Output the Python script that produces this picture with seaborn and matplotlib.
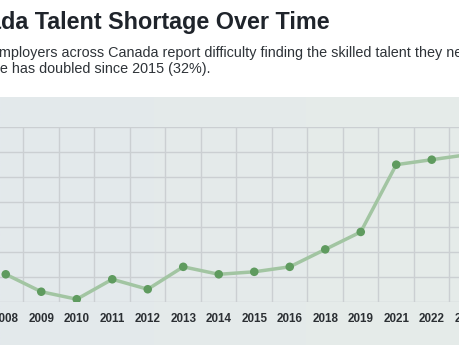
import matplotlib
matplotlib.use("Agg")
import matplotlib.pyplot as plt
import seaborn as sns
import numpy as np
import pandas as pd
from matplotlib.colors import LinearSegmentedColormap

# ---- data ----
years = ["2008", "2009", "2010", "2011", "2012", "2013", "2014",
         "2015", "2016", "2018", "2019", "2021", "2022", "2023"]
shortage = [31, 24, 21, 29, 25, 34, 31, 32, 34, 41, 48, 75, 77, 79]
y_ticks = [20, 30, 40, 50, 60, 70, 80, 90]

title = "Canada Talent Shortage Over Time"
sub1 = "Nearly 8 in 10 employers across Canada report difficulty finding the skilled talent they need."
sub2 = "The rate has doubled since 2015 (32%)."

sns.set_theme(style="white")
plt.rcParams["font.family"] = ["Liberation Sans", "DejaVu Sans"]

W, H = 460, 345
fig = plt.figure(figsize=(W / 100, H / 100), dpi=100)
fig.patch.set_facecolor("white")
renderer = fig.canvas.get_renderer()


def place(full, prefix, x_vis, y_base, **kw):
    t = fig.text(0, 0, prefix, **kw)
    w = t.get_window_extent(renderer).width
    t.remove()
    fig.text((x_vis - w) / W, 1 - y_base / H, full, va="baseline", ha="left", **kw)


place(title, "Cana", 0.5, 29.3, fontsize=16.8, fontweight="bold", color="#1f242b")
place(sub1, "Nearly 8 in 10 e", -0.8, 57.3, fontsize=10.35, color="#2e3338")
place(sub2, "The rat", 0.2, 72.7, fontsize=10.35, color="#2e3338")

# ---- panel background ----
panel_top = 97.3
bg = fig.add_axes([0, 0, 1, (H - panel_top) / H])
grad = np.linspace(0, 1, 256).reshape(1, -1)
cmap = LinearSegmentedColormap.from_list("p", ["#e3e9ec", "#e6ece9"])
bg.imshow(grad, aspect="auto", cmap=cmap, extent=[0, 1, 0, 1])
bg.set_xlim(0, 1)
bg.set_ylim(0, 1)
bg.axis("off")

# ---- main chart ----
ax = fig.add_axes([-12 / W, (H - 301.7) / H, 497 / W, 174.4 / H])
ax.patch.set_alpha(0)
df = pd.DataFrame({"year": years, "shortage": shortage})
sns.lineplot(data=df, x="year", y="shortage", ax=ax, color="#a2c5a2",
             lw=2.5, sort=False, zorder=3)
sns.scatterplot(data=df, x="year", y="shortage", ax=ax, color="#5f9b5f",
                s=38, edgecolor="none", zorder=5)
ax.set_ylim(20, 90)
ax.set_yticks(y_ticks)
ax.set_yticklabels([])
ax.set_xlim(-0.5, len(years) - 0.5)
ax.set_xticks(range(len(years)))
ax.set_xticklabels(years, fontweight="bold", fontsize=8.4, color="#2b2f33")
ax.set_xticks(np.arange(len(years) + 1) - 0.5, minor=True)
ax.grid(False)
ax.grid(True, which="minor", axis="x", color="#cbcfd2", lw=1)
ax.grid(True, which="major", axis="y", color="#cbcfd2", lw=1)
ax.tick_params(which="both", length=0)
ax.tick_params(axis="x", pad=8)
for s in ax.spines.values():
    s.set_visible(False)
ax.set_xlabel("")
ax.set_ylabel("")
ax.set_axisbelow(True)

fig.savefig("out.png", dpi=100)
